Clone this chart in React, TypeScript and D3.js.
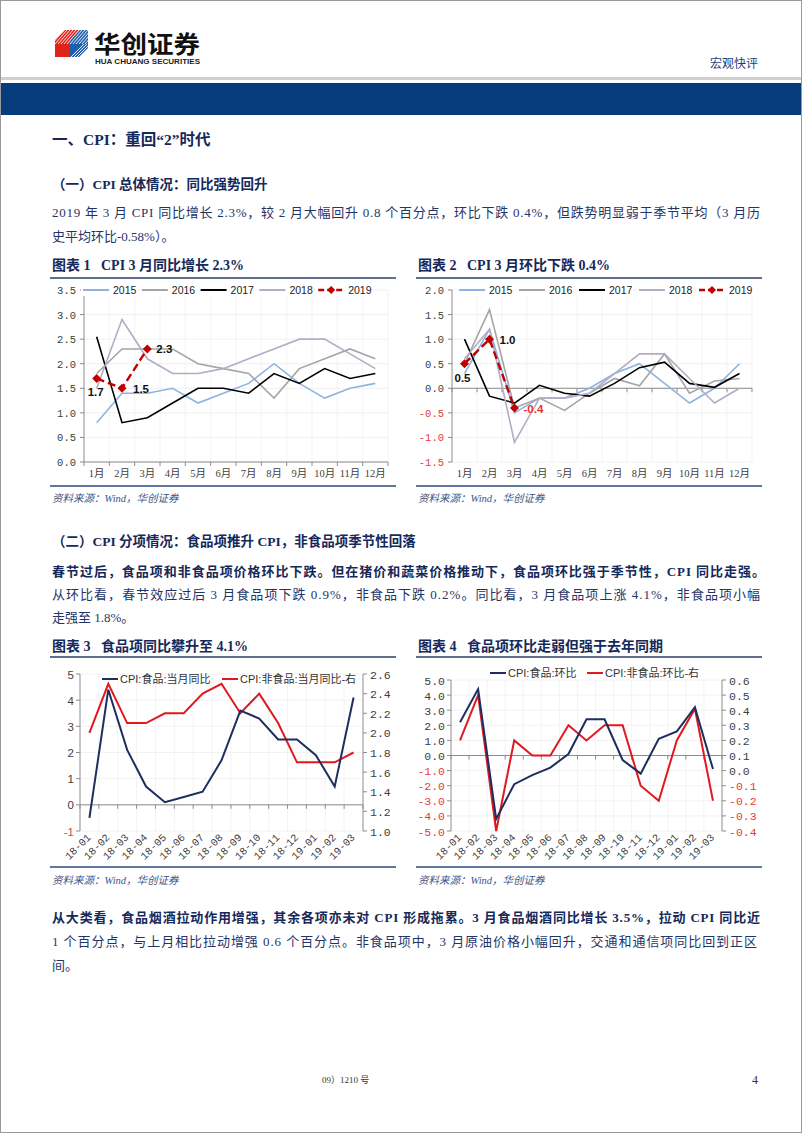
import React from "react";
import * as d3 from "d3";

// ---------- DATA ----------
const months = ["1月", "2月", "3月", "4月", "5月", "6月", "7月", "8月", "9月", "10月", "11月", "12月"];
const years = ["2015", "2016", "2017", "2018", "2019"];

const yoy2015 = [0.8, 1.4, 1.4, 1.5, 1.2, 1.4, 1.6, 2.0, 1.6, 1.3, 1.5, 1.6];
const yoy2016 = [1.8, 2.3, 2.3, 2.3, 2.0, 1.9, 1.8, 1.3, 1.9, 2.1, 2.3, 2.1];
const yoy2017 = [2.55, 0.8, 0.9, 1.2, 1.5, 1.5, 1.4, 1.8, 1.6, 1.9, 1.7, 1.8];
const yoy2018 = [1.5, 2.9, 2.1, 1.8, 1.8, 1.9, 2.1, 2.3, 2.5, 2.5, 2.2, 1.9];
const yoy2019 = [1.7, 1.5, 2.3];
const yoyTicks = [0, 0.5, 1.0, 1.5, 2.0, 2.5, 3.0, 3.5];

const mom2015 = [0.3, 1.2, -0.5, -0.2, -0.2, 0.0, 0.3, 0.5, 0.1, -0.3, 0.0, 0.5];
const mom2016 = [0.5, 1.6, -0.4, -0.2, -0.45, -0.1, 0.2, 0.05, 0.7, -0.1, 0.15, 0.2];
const mom2017 = [1.0, -0.16, -0.3, 0.06, -0.1, -0.16, 0.1, 0.42, 0.53, 0.1, 0.02, 0.3];
const mom2018 = [0.6, 1.2, -1.1, -0.2, -0.2, -0.1, 0.3, 0.7, 0.7, 0.2, -0.3, 0.0];
const mom2019 = [0.5, 1.0, -0.4];
const momTicks = [-1.5, -1.0, -0.5, 0, 0.5, 1.0, 1.5, 2.0];

const months18 = ["18-01", "18-02", "18-03", "18-04", "18-05", "18-06", "18-07", "18-08", "18-09", "18-10", "18-11", "18-12", "19-01", "19-02", "19-03"];
const foodYoY = [-0.5, 4.4, 2.1, 0.7, 0.1, 0.3, 0.5, 1.7, 3.6, 3.3, 2.5, 2.5, 1.9, 0.7, 4.1];
const nonFoodYoY = [2.0, 2.5, 2.1, 2.1, 2.2, 2.2, 2.4, 2.5, 2.2, 2.4, 2.1, 1.7, 1.7, 1.7, 1.8];
const foodYoYTicks = [-1, 0, 1, 2, 3, 4, 5];
const nonFoodYoYTicks = [1.0, 1.2, 1.4, 1.6, 1.8, 2.0, 2.2, 2.4, 2.6];

const foodMoM = [2.2, 4.4, -4.2, -1.9, -1.3, -0.8, 0.1, 2.4, 2.4, -0.3, -1.2, 1.1, 1.6, 3.2, -0.9];
const nonFoodMoM = [0.2, 0.5, -0.4, 0.2, 0.1, 0.1, 0.3, 0.2, 0.3, 0.3, -0.1, -0.2, 0.2, 0.41, -0.2];
const foodMoMTicks = [-5, -4, -3, -2, -1, 0, 1, 2, 3, 4, 5];
const nonFoodMoMTicks = [-0.4, -0.3, -0.2, -0.1, 0, 0.1, 0.2, 0.3, 0.4, 0.5, 0.6];

const chart3Legend = ["CPI:食品:当月同比", "CPI:非食品:当月同比-右"];
const chart4Legend = ["CPI:食品:环比", "CPI:非食品:环比-右"];

// ---------- STYLE ----------
const NAVY = "#15295a";
const TEXT = "#1f3568";
const RED = "#c00000";
const BRIGHT_RED = "#e0191e";
const DARK_BLUE = "#1d2f5e";
const NEG = "#e83a3a";
const yearColors = ["#8fb3e0", "#a5a5a5", "#000000", "#b4abc6", RED];
const SERIF = "'Liberation Serif', 'Noto Sans CJK SC', serif";
const SANS = "'Liberation Sans', 'Noto Sans CJK SC', sans-serif";
const MONO = "'Liberation Mono', 'DejaVu Sans Mono', monospace";

type Lbl = { i: number; text: string; dx: number; dy: number; anchor: string; color: string };

function YearChart(props: {
  x0: number; x1: number; top: number; bottom: number;
  domain: [number, number]; ticks: number[];
  series: number[][]; labels: Lbl[]; legendX: number; legendStep: number; zeroLine: boolean;
}) {
  const { x0, x1, top, bottom, domain, ticks, series, labels, legendX, legendStep, zeroLine } = props;
  const x = d3.scaleBand<string>().domain(months).range([x0, x1]);
  const y = d3.scaleLinear().domain(domain).range([bottom, top]);
  const cx = (i: number) => (x(months[i]) as number) + x.bandwidth() / 2;
  const line = d3.line<number>().x((_, i) => cx(i)).y((d) => y(d));
  const axisY = zeroLine ? y(0) : bottom;
  const bounds = d3.range(months.length + 1).map((i) => x0 + i * x.bandwidth());
  return (
    <g>
      {ticks.map((t) => (
        <line key={"g" + t} x1={x0} x2={x1} y1={y(t)} y2={y(t)} stroke="#ececec" strokeWidth={0.8} />
      ))}
      {bounds.slice(1).map((b, i) => (
        <line key={"v" + i} x1={b} x2={b} y1={top} y2={bottom} stroke="#f0f0f0" strokeWidth={0.8} />
      ))}
      <line x1={x0} x2={x0} y1={top} y2={bottom} stroke="#8c8c8c" strokeWidth={1} />
      {ticks.map((t) => (
        <g key={"t" + t}>
          <line x1={x0 - 4} x2={x0} y1={y(t)} y2={y(t)} stroke="#8c8c8c" />
          <text x={x0 - 8} y={y(t) + 4} textAnchor="end" fontFamily={MONO} fontSize={10.5}
            fill={t < 0 ? NEG : "#404040"}>{t.toFixed(1)}</text>
        </g>
      ))}
      <line x1={x0} x2={x1} y1={axisY} y2={axisY} stroke="#8c8c8c" strokeWidth={1} />
      {bounds.map((b, i) => (
        <line key={"xt" + i} x1={b} x2={b} y1={axisY} y2={axisY + 4} stroke="#8c8c8c" />
      ))}
      {months.map((m, i) => (
        <text key={m} x={cx(i)} y={bottom + 15} textAnchor="middle" fontFamily={SERIF} fontSize={10.5} fill="#404040">{m}</text>
      ))}
      {series.map((s, k) => (
        <path key={"s" + k} d={line(s) as string} fill="none" stroke={yearColors[k]}
          strokeWidth={k === 4 ? 2.4 : 1.6} strokeDasharray={k === 4 ? "8,4" : undefined} />
      ))}
      {series[4].map((v, i) => (
        <path key={"m" + i} d={`M${cx(i)},${y(v) - 4.5}L${cx(i) + 4.5},${y(v)}L${cx(i)},${y(v) + 4.5}L${cx(i) - 4.5},${y(v)}Z`} fill={RED} />
      ))}
      {labels.map((l) => (
        <text key={"l" + l.i} x={cx(l.i) + l.dx} y={y(series[4][l.i]) + l.dy} textAnchor={l.anchor}
          fontFamily={SANS} fontWeight="bold" fontSize={11.5} fill={l.color}>{l.text}</text>
      ))}
      {years.map((yr, k) => {
        const lx = legendX + k * legendStep;
        return (
          <g key={yr}>
            <rect x={lx - 2} y={top - 6} width={56} height={12} fill="#fff" />
            <line x1={lx} x2={lx + 26} y1={top} y2={top} stroke={yearColors[k]} strokeWidth={k === 4 ? 2.6 : 2}
              strokeDasharray={k === 4 ? "6,3" : undefined} />
            {k === 4 && <path d={`M${lx + 13},${top - 4}L${lx + 17},${top}L${lx + 13},${top + 4}L${lx + 9},${top}Z`} fill={RED} />}
            <text x={lx + 30} y={top + 4} fontFamily={SANS} fontSize={10.5} fill="#222">{yr}</text>
          </g>
        );
      })}
    </g>
  );
}

function DualChart(props: {
  x0: number; x1: number; top: number; bottom: number;
  left: number[]; right: number[]; lDomain: [number, number]; rDomain: [number, number];
  lTicks: number[]; rTicks: number[]; lFmt: (n: number) => string; rFmt: (n: number) => string;
  legend: string[]; legendY: number; legendX: [number, number]; lFont: string;
}) {
  const { x0, x1, top, bottom, left, right, lDomain, rDomain, lTicks, rTicks, lFmt, rFmt, legend, legendY, legendX, lFont } = props;
  const x = d3.scaleBand<string>().domain(months18).range([x0, x1]);
  const yl = d3.scaleLinear().domain(lDomain).range([bottom, top]);
  const yr = d3.scaleLinear().domain(rDomain).range([bottom, top]);
  const cx = (i: number) => (x(months18[i]) as number) + x.bandwidth() / 2;
  const lineL = d3.line<number>().x((_, i) => cx(i)).y((d) => yl(d));
  const lineR = d3.line<number>().x((_, i) => cx(i)).y((d) => yr(d));
  const bounds = d3.range(months18.length + 1).map((i) => x0 + i * x.bandwidth());
  const zy = yl(0);
  return (
    <g>
      {lTicks.map((t) => (
        <line key={"g" + t} x1={x0} x2={x1} y1={yl(t)} y2={yl(t)} stroke="#efefef" strokeWidth={0.8} />
      ))}
      {bounds.slice(1, -1).map((b, i) => (
        <line key={"v" + i} x1={b} x2={b} y1={top} y2={bottom} stroke="#f0f0f0" strokeWidth={0.8} />
      ))}
      <line x1={x0} x2={x0} y1={top} y2={bottom} stroke="#8c8c8c" />
      <line x1={x1} x2={x1} y1={top} y2={bottom} stroke="#8c8c8c" />
      {lTicks.map((t) => (
        <g key={"lt" + t}>
          <line x1={x0 - 4} x2={x0} y1={yl(t)} y2={yl(t)} stroke="#8c8c8c" />
          <text x={x0 - 6} y={yl(t) + 4.5} textAnchor="end" fontFamily={lFont} fontSize={11.5}
            fill={t < 0 ? NEG : "#404040"}>{lFmt(t)}</text>
        </g>
      ))}
      {rTicks.map((t) => (
        <g key={"rt" + t}>
          <line x1={x1} x2={x1 + 4} y1={yr(t)} y2={yr(t)} stroke="#8c8c8c" />
          <text x={x1 + 7} y={yr(t) + 4.5} textAnchor="start" fontFamily={MONO} fontSize={11.5}
            fill={t < 0 ? NEG : "#404040"}>{rFmt(t)}</text>
        </g>
      ))}
      <line x1={x0} x2={x1} y1={zy} y2={zy} stroke="#8c8c8c" />
      {bounds.map((b, i) => (
        <line key={"xt" + i} x1={b} x2={b} y1={zy} y2={zy + 4} stroke="#8c8c8c" />
      ))}
      {months18.map((m, i) => (
        <text key={m} transform={`translate(${cx(i) + 2},${bottom + 7}) rotate(-45)`} textAnchor="end"
          fontFamily={MONO} fontSize={10.5} fill="#404040">{m}</text>
      ))}
      <path d={lineR(right) as string} fill="none" stroke={BRIGHT_RED} strokeWidth={2} />
      <path d={lineL(left) as string} fill="none" stroke={DARK_BLUE} strokeWidth={2} />
      {legend.map((t, k) => (
        <g key={t}>
          <line x1={legendX[k]} x2={legendX[k] + 16} y1={legendY} y2={legendY} stroke={k === 0 ? DARK_BLUE : BRIGHT_RED} strokeWidth={2} />
          <text x={legendX[k] + 18} y={legendY + 4} fontFamily={SANS} fontSize={11} fill="#333">{t}</text>
        </g>
      ))}
    </g>
  );
}

function JLine(p: { x: number; y: number; w?: number; text: string; bold?: boolean; size?: number; color?: string }) {
  return (
    <text x={p.x} y={p.y} fontFamily={SERIF} fontSize={p.size ?? 13} fontWeight={p.bold ? "bold" : "normal"}
      fill={p.color ?? TEXT} textLength={p.w} lengthAdjust={p.w ? "spacing" : undefined}
      style={{ whiteSpace: "pre" }}>{p.text}</text>
  );
}

function Logo() {
  return (
    <g>
      <defs>
        <clipPath id="logoClip">
          <polygon points="55,40 65,30 88,30 88,48 79,57 55,57" />
        </clipPath>
      </defs>
      <polygon points="55,40 65,30 80,30 70,40 70,57 55,57" fill="#e2231a" />
      <polygon points="70,40 80,30 88,30 88,48 79,57 70,57" fill="#1f5fae" />
      <g clipPath="url(#logoClip)">
        {d3.range(0, 14).map((i) => (
          <line key={i} x1={52 + i * 3} y1={44} x2={64 + i * 3} y2={30} stroke="#fff" strokeWidth={0.9} />
        ))}
        {d3.range(0, 8).map((i) => (
          <line key={"b" + i} x1={70 + i * 3} y1={58} x2={84 + i * 3} y2={44} stroke="#fff" strokeWidth={0.9} />
        ))}
      </g>
      <text x={94} y={53} fontFamily={SANS} fontWeight="bold" fontSize={24} fill="#111" textLength={106} lengthAdjust="spacingAndGlyphs">华创证券</text>
      <text x={95} y={64} fontFamily={SANS} fontWeight="bold" fontSize={7.6} fill="#222" textLength={105} lengthAdjust="spacingAndGlyphs">HUA CHUANG SECURITIES</text>
    </g>
  );
}

export default function App() {
  const chart1Labels: Lbl[] = [
    { i: 0, text: "1.7", dx: -1, dy: 18, anchor: "middle", color: "#111" },
    { i: 1, text: "1.5", dx: 11, dy: 5, anchor: "start", color: "#111" },
    { i: 2, text: "2.3", dx: 9, dy: 4, anchor: "start", color: "#111" },
  ];
  const chart2Labels: Lbl[] = [
    { i: 0, text: "0.5", dx: -2, dy: 18, anchor: "middle", color: "#111" },
    { i: 1, text: "1.0", dx: 10, dy: 5, anchor: "start", color: "#111" },
    { i: 2, text: "-0.4", dx: 9, dy: 5, anchor: "start", color: "#e8322e" },
  ];
  return (
    <div style={{ position: "absolute", left: 0, top: 0 }}>
      <svg width={802} height={1133} viewBox="0 0 802 1133" style={{ display: "block", background: "#fff" }}>
        <rect x={0.5} y={0.5} width={801} height={1132} fill="#fff" stroke="#9a9a9a" />
        <Logo />
        <text x={710} y={68} fontFamily={SERIF} fontSize={12} fill="#1f3d7a">宏观快评</text>
        <rect x={1} y={77} width={800} height={3} fill="#cfcfcf" />
        <rect x={1} y={83} width={800} height={32} fill="#063b7c" />

        <JLine x={52} y={145} text="一、CPI：重回“2”时代" bold size={15.5} color={NAVY} />
        <JLine x={52} y={189} text="（一）CPI 总体情况：同比强势回升" bold size={13.5} color={NAVY} />
        <JLine x={52} y={217} w={708} text="2019 年 3 月 CPI 同比增长 2.3%，较 2 月大幅回升 0.8 个百分点，环比下跌 0.4%，但跌势明显弱于季节平均（3 月历" />
        <JLine x={52} y={241} text="史平均环比-0.58%）。" />

        <JLine x={52} y={270} text="图表 1   CPI 3 月同比增长 2.3%" bold size={14} color={NAVY} />
        <JLine x={418} y={270} text="图表 2   CPI 3 月环比下跌 0.4%" bold size={14} color={NAVY} />
        <line x1={50} x2={396} y1={278} y2={278} stroke="#2c3f66" strokeWidth={1.3} />
        <line x1={416} x2={762} y1={278} y2={278} stroke="#2c3f66" strokeWidth={1.3} />

        <YearChart x0={84} x1={388} top={290} bottom={462} domain={[0, 3.5]} ticks={yoyTicks}
          series={[yoy2015, yoy2016, yoy2017, yoy2018, yoy2019]} labels={chart1Labels}
          legendX={83} legendStep={58.8} zeroLine={false} />
        <YearChart x0={452} x1={752} top={290} bottom={462} domain={[-1.5, 2]} ticks={momTicks}
          series={[mom2015, mom2016, mom2017, mom2018, mom2019]} labels={chart2Labels}
          legendX={459} legendStep={60} zeroLine={true} />

        <line x1={50} x2={396} y1={486} y2={486} stroke="#2b4a80" strokeWidth={1.5} />
        <line x1={416} x2={762} y1={486} y2={486} stroke="#2b4a80" strokeWidth={1.5} />
        <text x={52} y={502} fontFamily={SERIF} fontStyle="italic" fontSize={10.5} fill="#3c5487">资料来源：Wind，华创证券</text>
        <text x={418} y={502} fontFamily={SERIF} fontStyle="italic" fontSize={10.5} fill="#3c5487">资料来源：Wind，华创证券</text>

        <JLine x={52} y={546} text="（二）CPI 分项情况：食品项推升 CPI，非食品项季节性回落" bold size={13.5} color={NAVY} />
        <JLine x={52} y={576} w={713} text="春节过后，食品项和非食品项价格环比下跌。但在猪价和蔬菜价格推动下，食品项环比强于季节性，CPI 同比走强。" bold color={NAVY} />
        <JLine x={52} y={599} w={708} text="从环比看，春节效应过后 3 月食品项下跌 0.9%，非食品下跌 0.2%。同比看，3 月食品项上涨 4.1%，非食品项小幅" />
        <JLine x={52} y={622} text="走强至 1.8%。" />

        <JLine x={52} y={651} text="图表 3   食品项同比攀升至 4.1%" bold size={14} color={NAVY} />
        <JLine x={418} y={651} text="图表 4   食品项环比走弱但强于去年同期" bold size={14} color={NAVY} />
        <line x1={50} x2={396} y1={657} y2={657} stroke="#2c3f66" strokeWidth={1.3} />
        <line x1={416} x2={762} y1={657} y2={657} stroke="#2c3f66" strokeWidth={1.3} />

        <DualChart x0={80} x1={363} top={674} bottom={831} left={foodYoY} right={nonFoodYoY}
          lDomain={[-1, 5]} rDomain={[1.0, 2.6]} lTicks={foodYoYTicks} rTicks={nonFoodYoYTicks}
          lFmt={(n) => String(n)} rFmt={(n) => n.toFixed(1)} legend={chart3Legend} legendY={679}
          legendX={[102, 222]} lFont={SANS} />
        <DualChart x0={451} x1={722} top={680} bottom={831} left={foodMoM} right={nonFoodMoM}
          lDomain={[-5, 5]} rDomain={[-0.4, 0.6]} lTicks={foodMoMTicks} rTicks={nonFoodMoMTicks}
          lFmt={(n) => n.toFixed(1)} rFmt={(n) => n.toFixed(1)} legend={chart4Legend} legendY={673}
          legendX={[490, 587]} lFont={MONO} />

        <line x1={50} x2={396} y1={867} y2={867} stroke="#2b4a80" strokeWidth={1.5} />
        <line x1={416} x2={762} y1={867} y2={867} stroke="#2b4a80" strokeWidth={1.5} />
        <text x={52} y={884} fontFamily={SERIF} fontStyle="italic" fontSize={10.5} fill="#3c5487">资料来源：Wind，华创证券</text>
        <text x={418} y={884} fontFamily={SERIF} fontStyle="italic" fontSize={10.5} fill="#3c5487">资料来源：Wind，华创证券</text>

        <JLine x={52} y={922} w={708} text="从大类看，食品烟酒拉动作用增强，其余各项亦未对 CPI 形成拖累。3 月食品烟酒同比增长 3.5%，拉动 CPI 同比近" bold color={NAVY} />
        <JLine x={52} y={946} w={705} text="1 个百分点，与上月相比拉动增强 0.6 个百分点。非食品项中，3 月原油价格小幅回升，交通和通信项同比回到正区" />
        <JLine x={52} y={970} text="间。" />

        <text x={322} y={1083} fontFamily={SERIF} fontSize={9} fill="#333">09）1210 号</text>
        <text x={752} y={1084} fontFamily={SERIF} fontSize={12} fill="#333">4</text>
      </svg>
    </div>
  );
}
